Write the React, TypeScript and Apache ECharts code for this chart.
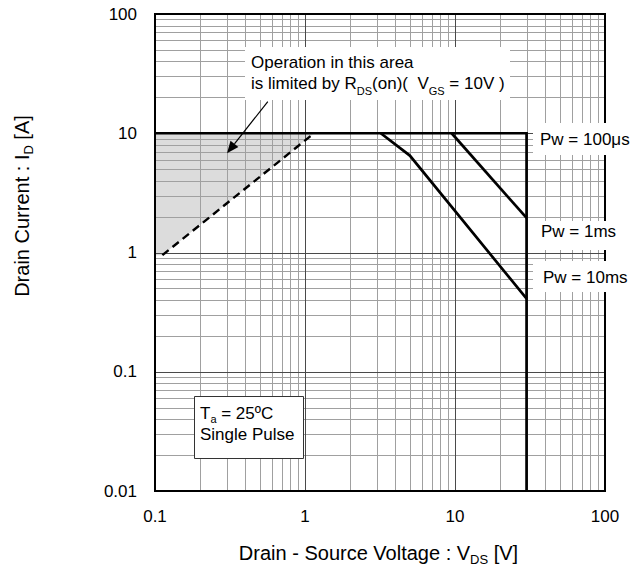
import React, { useEffect, useRef } from "react";
import * as echarts from "echarts";

const X_MIN = 0.1;
const X_MAX = 100;
const Y_MIN = 0.01;
const Y_MAX = 100;

const xTickLabels = ["0.1", "1", "10", "100"];
const yTickLabels = ["0.01", "0.1", "1", "10", "100"];

const xMajorGrid = [1, 10];
const xMinorGrid = [
  0.2, 0.3, 0.4, 0.5, 0.6, 0.7, 0.8, 0.9,
  2, 3, 4, 5, 6, 7, 8, 9,
  20, 30, 40, 50, 60, 70, 80, 90,
];
const yMajorGrid = [0.1, 1, 10];
const yMinorGrid = [
  0.02, 0.03, 0.04, 0.05, 0.06, 0.07, 0.08, 0.09,
  0.2, 0.3, 0.4, 0.5, 0.6, 0.7, 0.8, 0.9,
  2, 3, 4, 5, 6, 7, 8, 9,
  20, 30, 40, 50, 60, 70, 80, 90,
];

// Safe operating area boundaries [V_DS (V), I_D (A)]
const pw100usLine = [
  [0.1, 10],
  [30, 10],
  [30, 0.01],
];
const pw1msLine = [
  [9.5, 10],
  [30, 1.95],
];
const pw10msLine = [
  [3.2, 10],
  [5, 6.5],
  [30, 0.41],
];
const rdsOnLine = [
  [0.112, 0.95],
  [1.15, 10],
];
const rdsOnArea = [
  [0.1, 10],
  [1.15, 10],
  [0.112, 0.95],
  [0.1, 0.95],
];
const arrowStart = [0.565, 18.4];
const arrowEnd = [0.302, 6.8];

const FONT = '"Liberation Sans", Arial, Helvetica, sans-serif';

function labelFor(list: string[], v: number) {
  const hit = list.find((t) => Math.abs(Math.log10(+t) - Math.log10(v)) < 1e-6);
  return hit ?? "";
}

function vGrid(values: number[], color: string, z: number) {
  return {
    type: "custom",
    coordinateSystem: "cartesian2d",
    silent: true,
    z,
    data: values.map((v) => [v, 1]),
    renderItem: (_p: any, api: any) => {
      const v = api.value(0);
      const a = api.coord([v, Y_MIN]);
      const b = api.coord([v, Y_MAX]);
      const x = Math.round(a[0]) + 0.5;
      return {
        type: "line",
        shape: { x1: x, y1: a[1], x2: x, y2: b[1] },
        style: { stroke: color, lineWidth: 1 },
      };
    },
  };
}

function hGrid(values: number[], color: string, z: number) {
  return {
    type: "custom",
    coordinateSystem: "cartesian2d",
    silent: true,
    z,
    data: values.map((v) => [1, v]),
    renderItem: (_p: any, api: any) => {
      const v = api.value(1);
      const a = api.coord([X_MIN, v]);
      const b = api.coord([X_MAX, v]);
      const y = Math.round(a[1]) + 0.5;
      return {
        type: "line",
        shape: { x1: a[0], y1: y, x2: b[0], y2: y },
        style: { stroke: color, lineWidth: 1 },
      };
    },
  };
}

// subDrop: how far (px) the subscript centre sits below the main text centre
function textEl(
  text: string,
  x: number,
  y: number,
  size: number,
  subSize: number,
  subDrop: number,
  align: string,
  rotation = 0
) {
  return {
    type: "text",
    x,
    y,
    rotation,
    z: 20,
    silent: true,
    style: {
      text,
      fill: "#000",
      fontSize: size,
      fontFamily: FONT,
      align,
      textAlign: align,
      verticalAlign: "middle",
      textVerticalAlign: "middle",
      rich: {
        m: { fontSize: size, fontFamily: FONT, fill: "#000", color: "#000" },
        s: {
          fontSize: subSize,
          fontFamily: FONT,
          padding: [subDrop * 2, 0, 0, 0],
          fill: "#000",
          color: "#000",
        },
      },
    },
  };
}

function whiteRect(x: number, y: number, w: number, h: number, stroke?: string) {
  return {
    type: "rect",
    z: 19,
    silent: true,
    shape: { x, y, width: w, height: h },
    style: stroke
      ? { fill: "#fff", stroke, lineWidth: 1 }
      : { fill: "#fff" },
  };
}

export default function App() {
  const ref = useRef<HTMLDivElement>(null);

  useEffect(() => {
    document.body.style.margin = "0";
    if (!ref.current) return;
    const chart = echarts.init(ref.current, undefined, { renderer: "svg" });

    const option: any = {
      animation: false,
      backgroundColor: "#fff",
      grid: {
        left: 155,
        top: 14,
        width: 450,
        height: 477,
        show: true,
        borderColor: "#000",
        borderWidth: 2,
        backgroundColor: "transparent",
        z: 8,
      },
      xAxis: {
        type: "log",
        logBase: 10,
        min: X_MIN,
        max: X_MAX,
        splitNumber: 3,
        axisLine: { show: false },
        axisTick: { show: false },
        splitLine: { show: false },
        axisLabel: {
          color: "#000",
          fontSize: 17,
          fontFamily: FONT,
          margin: 17,
          formatter: (v: number) => labelFor(xTickLabels, v),
        },
      },
      yAxis: {
        type: "log",
        logBase: 10,
        min: Y_MIN,
        max: Y_MAX,
        splitNumber: 4,
        axisLine: { show: false },
        axisTick: { show: false },
        splitLine: { show: false },
        axisLabel: {
          color: "#000",
          fontSize: 17,
          fontFamily: FONT,
          margin: 18,
          formatter: (v: number) => labelFor(yTickLabels, v),
        },
      },
      series: [
        {
          type: "custom",
          coordinateSystem: "cartesian2d",
          silent: true,
          z: 1,
          data: [rdsOnArea[0]],
          renderItem: (_p: any, api: any) => ({
            type: "polygon",
            shape: { points: rdsOnArea.map((pt) => api.coord(pt)) },
            style: { fill: "#dcdcdc" },
          }),
        },
        vGrid(xMinorGrid, "#a0a0a0", 2),
        hGrid(yMinorGrid, "#a0a0a0", 2),
        vGrid(xMajorGrid, "#4a4a4a", 3),
        hGrid(yMajorGrid, "#4a4a4a", 3),
        {
          type: "line",
          name: "Pw = 100μs",
          data: pw100usLine,
          symbol: "none",
          z: 5,
          lineStyle: { color: "#000", width: 2.7, join: "miter" },
        },
        {
          type: "line",
          name: "Pw = 1ms",
          data: pw1msLine,
          symbol: "none",
          z: 5,
          lineStyle: { color: "#000", width: 2.7 },
        },
        {
          type: "line",
          name: "Pw = 10ms",
          data: pw10msLine,
          symbol: "none",
          z: 5,
          lineStyle: { color: "#000", width: 2.7, join: "miter" },
        },
        {
          type: "line",
          name: "RDS(on) limit",
          data: rdsOnLine,
          symbol: "none",
          z: 5,
          lineStyle: { color: "#000", width: 2.4, type: [8, 5] },
        },
        {
          type: "custom",
          coordinateSystem: "cartesian2d",
          silent: true,
          z: 6,
          data: [arrowStart],
          renderItem: (_p: any, api: any) => {
            const a = api.coord(arrowStart);
            const b = api.coord(arrowEnd);
            const dx = b[0] - a[0];
            const dy = b[1] - a[1];
            const len = Math.hypot(dx, dy);
            const ux = dx / len;
            const uy = dy / len;
            const hl = 12;
            const hw = 5;
            const base = [b[0] - ux * hl, b[1] - uy * hl];
            const l = [base[0] - uy * hw, base[1] + ux * hw];
            const r = [base[0] + uy * hw, base[1] - ux * hw];
            return {
              type: "group",
              children: [
                {
                  type: "line",
                  shape: { x1: a[0], y1: a[1], x2: base[0], y2: base[1] },
                  style: { stroke: "#000", lineWidth: 1.2 },
                },
                {
                  type: "polygon",
                  shape: { points: [b, l, r] },
                  style: { fill: "#000" },
                },
              ],
            };
          },
        },
      ],
      graphic: [
        whiteRect(245, 47, 265, 53),
        textEl("{m|Operation in this area}", 251, 62.5, 17, 11, 7, "left"),
        textEl("{m|is limited by R}{s|DS}{m|(on)(  V}{s|GS}{m| = 10V )}", 251, 83.5, 17, 11, 7, "left"),
        whiteRect(533, 123, 102, 32),
        textEl("{m|Pw = 100μs}", 540, 139, 17, 11, 6, "left"),
        whiteRect(533, 221, 87, 29),
        textEl("{m|Pw = 1ms}", 541, 231, 17, 11, 6, "left"),
        whiteRect(533, 261, 99, 31),
        textEl("{m|Pw = 10ms}", 543, 277, 17, 11, 6, "left"),
        whiteRect(194.5, 396.5, 109, 62, "#333"),
        textEl("{m|T}{s|a}{m| = 25ºC}", 200, 413, 17, 11, 6, "left"),
        textEl("{m|Single Pulse}", 200, 434, 17, 11, 6, "left"),
        textEl("{m|Drain - Source Voltage : V}{s|DS}{m| [V]}", 378.5, 553, 20, 13, 6.5, "center"),
        textEl("{m|Drain Current : I}{s|D}{m| [A]}", 22, 206, 20, 13, 6.5, "center", Math.PI / 2),
      ],
    };

    chart.setOption(option);
    return () => chart.dispose();
  }, []);

  return <div ref={ref} style={{ width: 643, height: 568 }} />;
}
